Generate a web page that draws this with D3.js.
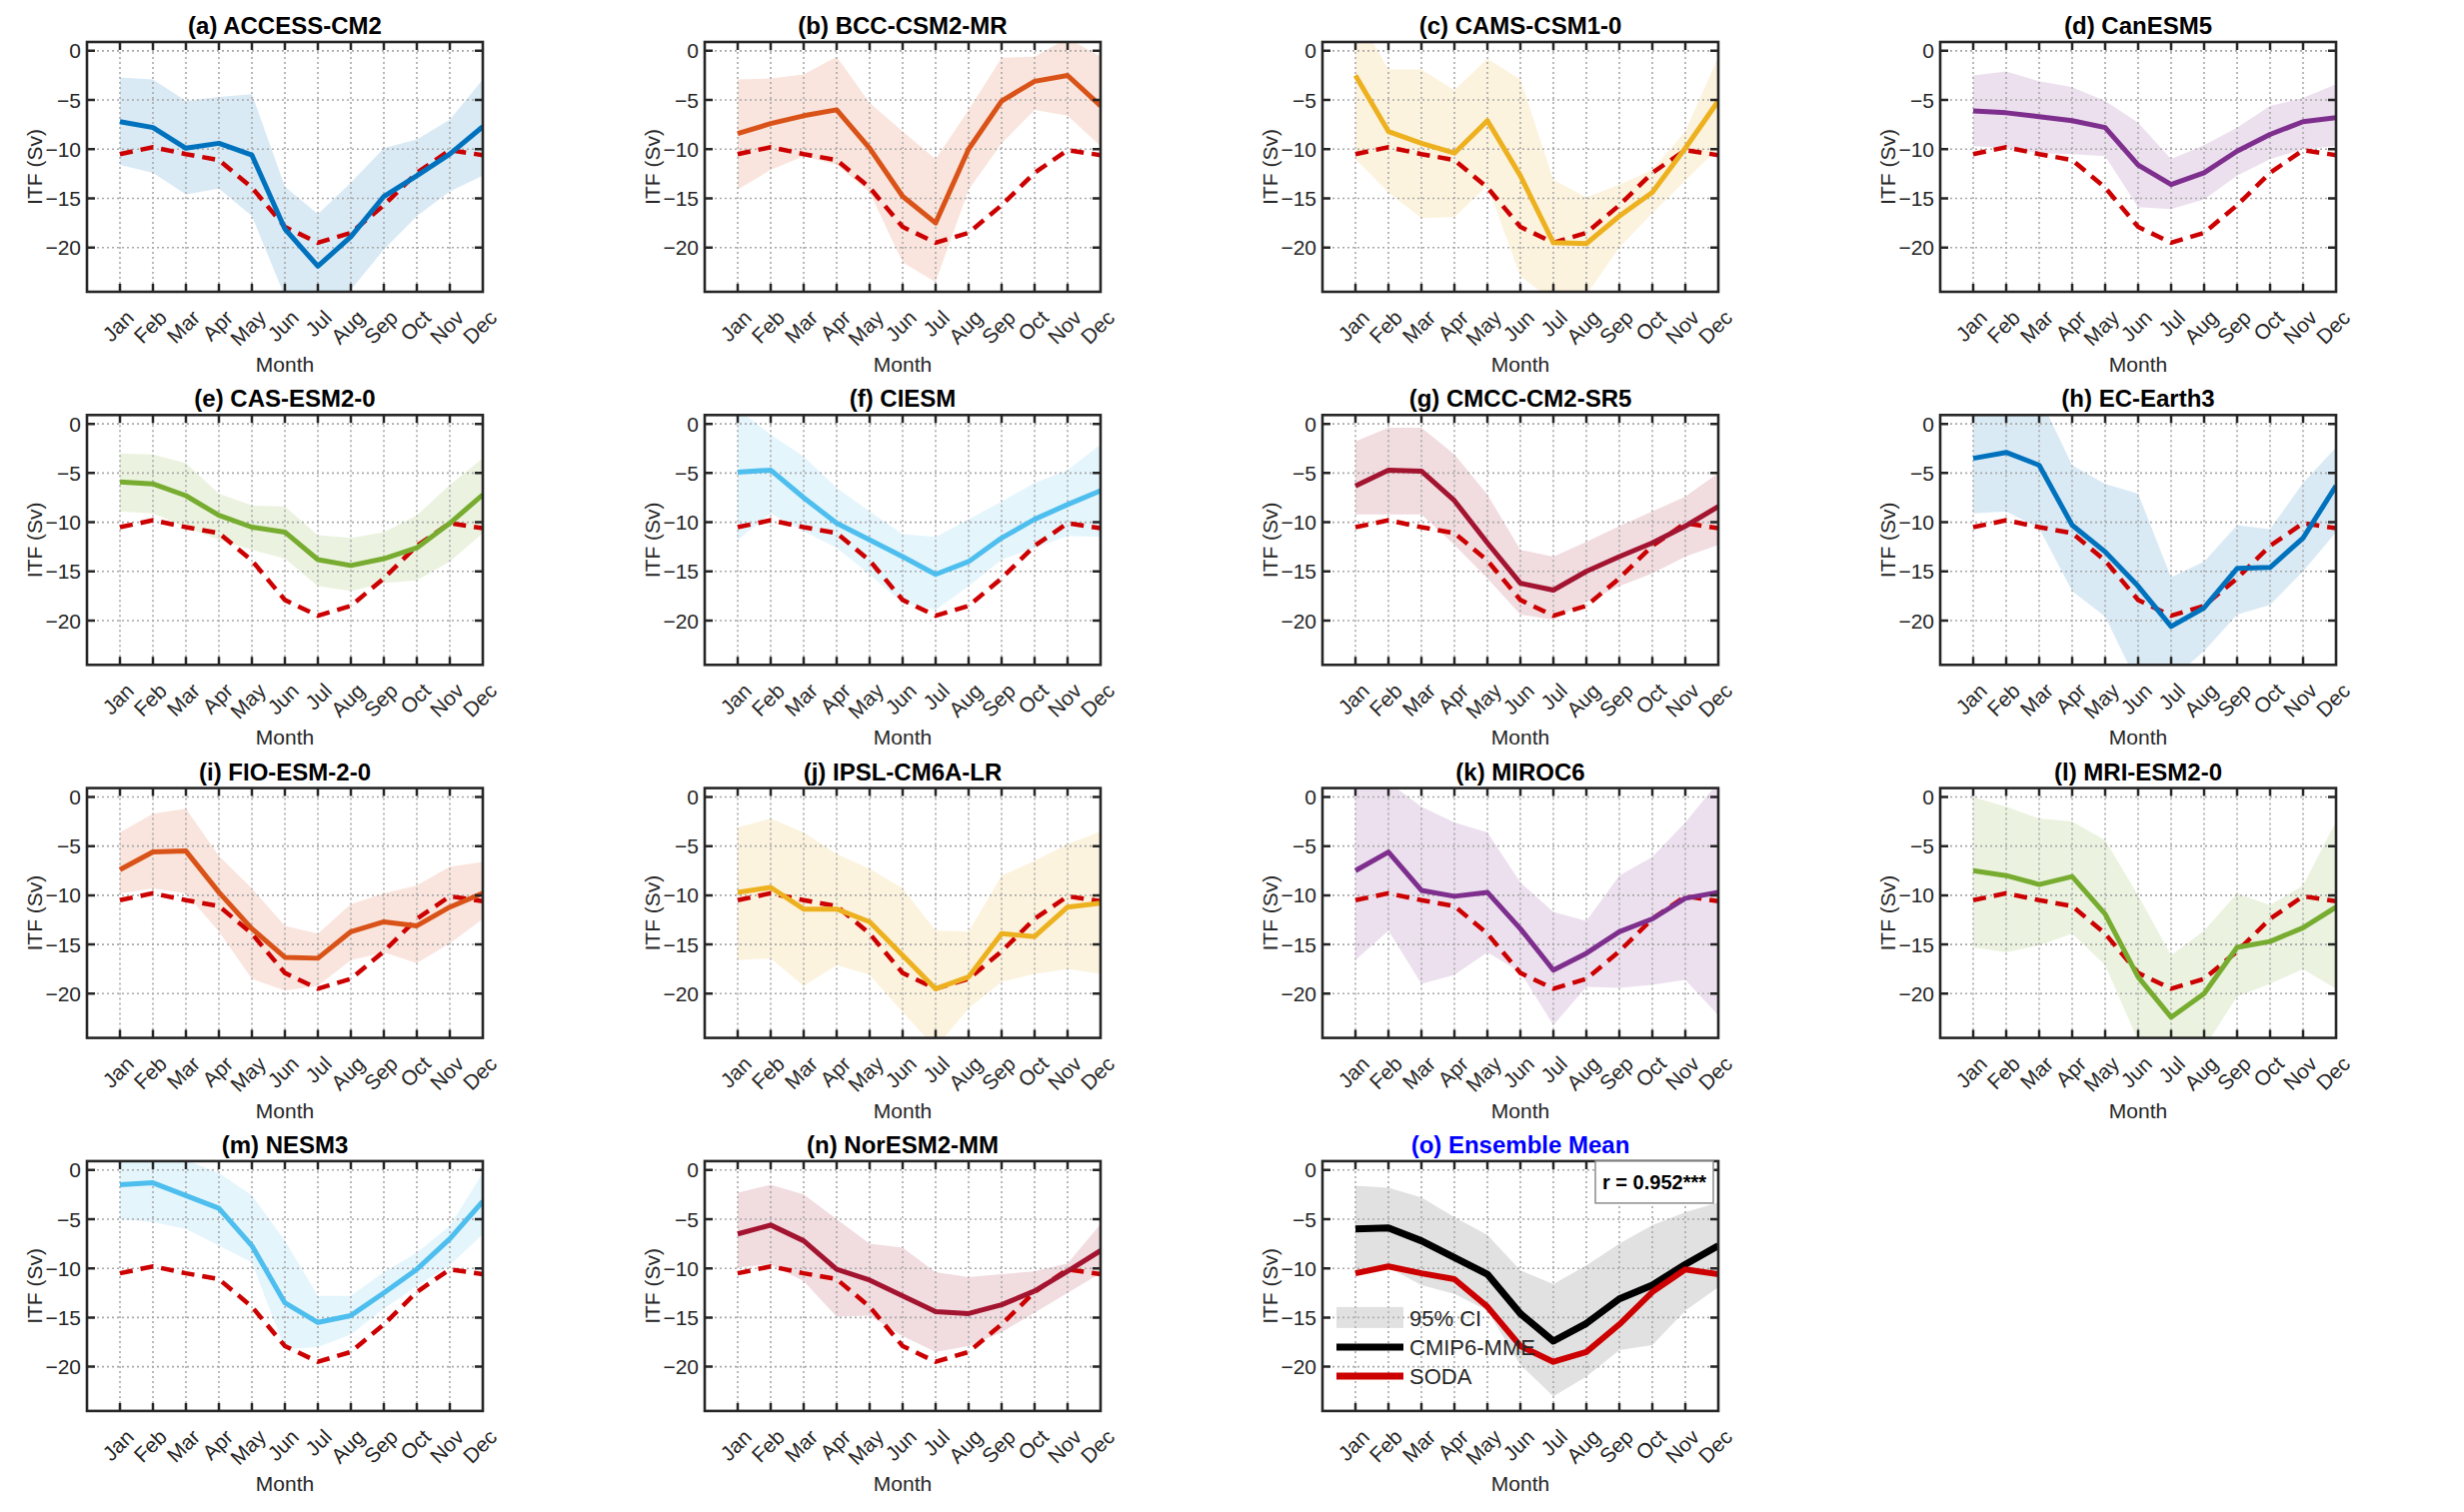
<!DOCTYPE html>
<html>
<head>
<meta charset="utf-8">
<script src="https://cdn.jsdelivr.net/npm/d3@7"></script>
<style>
  body { margin: 0; background: #fff; }
  svg { font-family: "Liberation Sans", Arial, sans-serif; }
</style>
</head>
<body>
<script>
// month labels and y ticks
var months = ["Jan","Feb","Mar","Apr","May","Jun","Jul","Aug","Sep","Oct","Nov","Dec"];
var yTicks = [0, -5, -10, -15, -20];

// SODA reanalysis (same in every panel)
var soda = [-10.5, -9.8, -10.5, -11.1, -13.9, -17.9, -19.5, -18.5, -15.7, -12.4, -10.1, -10.6];

// model means and 95% CI bounds (Sv)
var accessMean = [-7.2, -7.8, -9.9, -9.4, -10.6, -18.1, -21.9, -18.9, -14.8, -12.7, -10.5, -7.7];
var accessHi   = [-2.7, -2.9, -5.1, -4.7, -4.4, -13.8, -16.6, -13.4, -9.9, -9.0, -7.0, -2.9];
var accessLo   = [-11.6, -12.4, -14.6, -14.0, -16.8, -25.0, -28.0, -24.3, -20.2, -16.8, -14.3, -12.7];

var bccMean = [-8.4, -7.4, -6.6, -6.0, -9.9, -14.8, -17.5, -10.0, -5.1, -3.1, -2.5, -5.6];
var bccHi   = [-2.9, -2.8, -2.4, -0.6, -5.3, -8.2, -11.0, -6.0, -0.7, -0.6, 1.3, -0.6];
var bccLo   = [-14.1, -12.1, -10.7, -11.6, -14.4, -21.5, -23.5, -14.1, -9.4, -6.0, -6.6, -9.7];

var camsMean = [-2.5, -8.2, -9.4, -10.4, -7.1, -12.7, -19.5, -19.6, -16.8, -14.4, -9.9, -5.1];
var camsHi   = [4.0, -1.9, -1.9, -4.0, -0.8, -2.9, -13.1, -14.9, -13.6, -12.1, -8.2, -0.6];
var camsLo   = [-11.0, -14.4, -17.0, -16.9, -13.7, -22.9, -25.5, -24.8, -20.0, -16.5, -13.2, -9.9];

var canMean = [-6.1, -6.3, -6.7, -7.1, -7.8, -11.6, -13.6, -12.4, -10.2, -8.5, -7.2, -6.8];
var canHi   = [-2.5, -2.1, -3.1, -3.7, -5.1, -7.3, -11.0, -9.6, -7.8, -5.6, -4.8, -3.4];
var canLo   = [-9.7, -9.9, -10.4, -10.5, -10.7, -15.9, -16.1, -15.1, -12.7, -11.0, -10.0, -9.7];

var casMean = [-5.9, -6.1, -7.3, -9.3, -10.5, -11.0, -13.8, -14.4, -13.7, -12.6, -10.1, -7.2];
var casHi   = [-3.0, -3.1, -4.0, -7.1, -8.3, -8.4, -11.3, -11.6, -11.0, -9.3, -6.2, -3.5];
var casLo   = [-8.9, -9.1, -10.5, -11.8, -12.8, -13.7, -16.5, -17.0, -16.2, -15.9, -14.0, -11.1];

var ciesmMean = [-4.9, -4.7, -7.5, -10.1, -11.8, -13.5, -15.3, -14.0, -11.6, -9.7, -8.2, -6.8];
var ciesmHi   = [1.5, -1.1, -3.3, -6.5, -8.9, -11.2, -11.5, -9.7, -7.9, -6.0, -4.7, -2.1];
var ciesmLo   = [-11.8, -9.1, -10.9, -12.6, -15.3, -18.2, -18.9, -16.5, -13.8, -12.6, -11.4, -11.5];

var cmccMean = [-6.3, -4.7, -4.8, -7.8, -12.1, -16.2, -16.9, -15.0, -13.5, -12.1, -10.4, -8.4];
var cmccHi   = [-1.8, -0.4, -0.4, -3.1, -7.2, -12.8, -13.5, -12.0, -10.4, -8.9, -7.4, -5.0];
var cmccLo   = [-9.2, -9.2, -9.2, -12.3, -15.7, -19.4, -19.9, -18.1, -16.5, -15.2, -13.5, -12.3];

var ecMean = [-3.5, -2.9, -4.2, -10.3, -13.0, -16.5, -20.6, -18.7, -14.7, -14.6, -11.6, -6.3];
var ecHi   = [2.0, 2.0, 2.8, -4.2, -6.1, -7.1, -15.6, -14.0, -10.3, -10.7, -6.0, -2.4];
var ecLo   = [-9.1, -8.9, -10.6, -17.0, -19.6, -26.5, -26.0, -23.1, -19.4, -18.4, -15.0, -11.0];

var fioMean = [-7.4, -5.6, -5.5, -9.7, -13.4, -16.3, -16.4, -13.7, -12.7, -13.1, -11.2, -9.8];
var fioHi   = [-3.6, -1.7, -1.2, -6.0, -9.3, -13.1, -13.9, -10.9, -9.8, -9.0, -7.1, -6.6];
var fioLo   = [-9.8, -9.3, -9.8, -13.7, -18.5, -19.7, -19.2, -16.6, -15.8, -16.9, -14.9, -12.4];

var ipslMean = [-9.7, -9.2, -11.4, -11.4, -12.7, -16.1, -19.5, -18.3, -13.9, -14.2, -11.2, -10.8];
var ipslHi   = [-3.1, -2.2, -3.6, -5.8, -7.3, -9.3, -13.6, -13.7, -8.0, -6.5, -4.8, -3.5];
var ipslLo   = [-16.6, -16.4, -19.2, -17.1, -18.1, -21.9, -25.5, -21.5, -18.8, -18.0, -17.5, -18.0];

var mirocMean = [-7.5, -5.6, -9.5, -10.1, -9.7, -13.4, -17.6, -15.9, -13.7, -12.4, -10.3, -9.7];
var mirocHi   = [1.5, 1.5, -1.0, -2.6, -3.6, -8.7, -11.7, -12.6, -8.0, -6.1, -2.6, 1.5];
var mirocLo   = [-16.6, -13.6, -19.0, -18.1, -15.8, -17.8, -23.2, -19.3, -19.4, -19.1, -18.6, -22.2];

var mriMean = [-7.5, -8.0, -8.9, -8.1, -11.9, -18.3, -22.4, -20.0, -15.3, -14.7, -13.3, -11.2];
var mriHi   = [0.0, -1.0, -2.2, -2.5, -4.4, -10.0, -16.1, -13.6, -9.8, -11.0, -9.0, -2.5];
var mriLo   = [-15.3, -15.8, -15.1, -13.9, -17.1, -24.8, -26.0, -25.5, -20.3, -19.0, -17.5, -19.5];

var nesmMean = [-1.5, -1.3, -2.6, -3.9, -7.7, -13.5, -15.5, -14.8, -12.5, -10.1, -7.0, -3.2];
var nesmHi   = [1.5, 1.5, 1.0, -0.3, -2.6, -7.2, -12.8, -12.8, -10.4, -8.4, -5.7, -0.3];
var nesmLo   = [-5.0, -5.3, -6.0, -7.7, -9.4, -18.2, -18.0, -16.7, -14.1, -11.8, -9.7, -6.5];

var norMean = [-6.5, -5.6, -7.2, -10.1, -11.2, -12.8, -14.4, -14.6, -13.7, -12.3, -10.3, -8.2];
var norHi   = [-2.3, -1.5, -2.5, -5.0, -7.5, -7.9, -10.4, -10.9, -10.6, -10.3, -9.5, -5.5];
var norLo   = [-9.9, -9.6, -11.3, -14.9, -14.8, -16.9, -18.5, -17.9, -16.5, -14.5, -12.5, -10.5];

// multi-model ensemble
var mmeMean = [-6.0, -5.9, -7.2, -8.9, -10.6, -14.6, -17.4, -15.6, -13.1, -11.7, -9.6, -7.7];
var mmeHi   = [-1.6, -1.8, -2.8, -4.8, -6.6, -10.2, -11.6, -9.7, -7.5, -5.6, -4.3, -3.3];
var mmeLo   = [-10.5, -9.9, -11.7, -12.6, -14.3, -19.8, -23.0, -21.0, -18.3, -17.8, -14.3, -11.9];

var titles = ["(a) ACCESS-CM2","(b) BCC-CSM2-MR","(c) CAMS-CSM1-0","(d) CanESM5",
              "(e) CAS-ESM2-0","(f) CIESM","(g) CMCC-CM2-SR5","(h) EC-Earth3",
              "(i) FIO-ESM-2-0","(j) IPSL-CM6A-LR","(k) MIROC6","(l) MRI-ESM2-0",
              "(m) NESM3","(n) NorESM2-MM","(o) Ensemble Mean"];
var means = [accessMean, bccMean, camsMean, canMean, casMean, ciesmMean, cmccMean,
             ecMean, fioMean, ipslMean, mirocMean, mriMean, nesmMean, norMean, mmeMean];
var his = [accessHi, bccHi, camsHi, canHi, casHi, ciesmHi, cmccHi,
           ecHi, fioHi, ipslHi, mirocHi, mriHi, nesmHi, norHi, mmeHi];
var los = [accessLo, bccLo, camsLo, canLo, casLo, ciesmLo, cmccLo,
           ecLo, fioLo, ipslLo, mirocLo, mriLo, nesmLo, norLo, mmeLo];

var palette = ["#0072BD","#D95319","#EDB120","#7E2F8E","#77AC30","#4DBEEE","#A2142F"];

var W = 2465, H = 1513;
var pw = 396, ph = 250;
var ink = "#262626";

var svg = d3.select("body").append("svg")
  .attr("width", W).attr("height", H);

var x = d3.scaleLinear().domain([0, 12]).range([0, pw]);
var y = d3.scaleLinear().domain([-24.5, 0.9]).range([ph, 0]);

titles.forEach(function(title, k) {
  var col = k % 4, row = Math.floor(k / 4);
  var left = 87 + col * 618, top = 42 + row * 373.3;
  var isMME = (k == 14);
  var color = isMME ? "#000" : palette[k % 7];
  var fillColor = isMME ? "#bdbdbd" : color;
  var fillOp = isMME ? 0.45 : 0.15;

  var g = svg.append("g").attr("transform", "translate(" + left + "," + top + ")");

  g.append("clipPath").attr("id", "clip" + k)
    .append("rect").attr("width", pw).attr("height", ph);

  var plot = g.append("g").attr("clip-path", "url(#clip" + k + ")");

  var band = d3.area()
    .x(function(d, i) { return x(i + 1); })
    .y0(function(d, i) { return y(los[k][i]); })
    .y1(function(d, i) { return y(his[k][i]); });

  plot.append("path").datum(means[k])
    .attr("d", band)
    .attr("fill", fillColor).attr("fill-opacity", fillOp);

  // grid
  plot.selectAll(".vg").data(d3.range(1, 12)).enter().append("line")
    .attr("x1", function(d) { return x(d); }).attr("x2", function(d) { return x(d); })
    .attr("y1", 0).attr("y2", ph)
    .attr("stroke", "#a8a8a8").attr("stroke-width", 1.6).attr("stroke-dasharray", "2,3");
  plot.selectAll(".hg").data(yTicks).enter().append("line")
    .attr("x1", 0).attr("x2", pw)
    .attr("y1", function(d) { return y(d); }).attr("y2", function(d) { return y(d); })
    .attr("stroke", "#a8a8a8").attr("stroke-width", 1.6).attr("stroke-dasharray", "2,3");

  var line = d3.line()
    .x(function(d, i) { return x(i + 1); })
    .y(function(d) { return y(d); });

  if (isMME) {
    plot.append("path").datum(means[k]).attr("d", line)
      .attr("fill", "none").attr("stroke", "#000").attr("stroke-width", 7)
      .attr("stroke-linejoin", "round");
    plot.append("path").datum(soda).attr("d", line)
      .attr("fill", "none").attr("stroke", "#CC0000").attr("stroke-width", 6)
      .attr("stroke-linejoin", "round");
  } else {
    plot.append("path").datum(soda).attr("d", line)
      .attr("fill", "none").attr("stroke", "#CC0000").attr("stroke-width", 4.5)
      .attr("stroke-dasharray", "13,8");
    plot.append("path").datum(means[k]).attr("d", line)
      .attr("fill", "none").attr("stroke", color).attr("stroke-width", 5)
      .attr("stroke-linejoin", "round");
  }

  // ticks inside, all four sides
  var tl = 8;
  g.selectAll(".xt").data(d3.range(1, 12)).enter().append("path")
    .attr("d", function(d) {
      var px = x(d);
      return "M" + px + "," + ph + "v" + (-tl) + "M" + px + ",0v" + tl;
    })
    .attr("stroke", ink).attr("stroke-width", 2.5);
  g.selectAll(".yt").data(yTicks).enter().append("path")
    .attr("d", function(d) {
      var py = y(d);
      return "M0," + py + "h" + tl + "M" + pw + "," + py + "h" + (-tl);
    })
    .attr("stroke", ink).attr("stroke-width", 2.5);

  g.append("rect").attr("width", pw).attr("height", ph)
    .attr("fill", "none").attr("stroke", ink).attr("stroke-width", 2.6);

  // tick labels
  g.selectAll(".yl").data(yTicks).enter().append("text")
    .attr("x", -6).attr("y", function(d) { return y(d); })
    .attr("dy", "0.36em").attr("text-anchor", "end")
    .attr("font-size", 21).attr("fill", ink)
    .text(function(d) { return d < 0 ? "\u2212" + Math.abs(d) : d; });

  g.selectAll(".xl").data(months).enter().append("text")
    .attr("transform", function(d, i) {
      return "translate(" + (x(i + 1) + 10) + "," + (ph + 22) + ") rotate(-45)";
    })
    .attr("text-anchor", "end").attr("dy", "0.36em")
    .attr("font-size", 21).attr("fill", ink)
    .text(function(d) { return d; });

  g.append("text").attr("x", pw / 2).attr("y", ph + 80)
    .attr("text-anchor", "middle").attr("font-size", 21).attr("fill", ink)
    .text("Month");

  g.append("text")
    .attr("transform", "translate(-45," + (ph / 2) + ") rotate(-90)")
    .attr("text-anchor", "middle").attr("font-size", 21).attr("fill", ink)
    .text("ITF (Sv)");

  g.append("text").attr("x", pw / 2).attr("y", -8)
    .attr("text-anchor", "middle").attr("font-size", 24).attr("font-weight", "bold")
    .attr("fill", isMME ? "#0000FF" : "#000")
    .text(title);

  if (isMME) {
    // correlation box
    g.append("rect").attr("x", 273).attr("y", 0).attr("width", 118).attr("height", 42)
      .attr("fill", "#fff").attr("stroke", "#8c8c8c").attr("stroke-width", 1.5);
    g.append("text").attr("x", 280).attr("y", 28)
      .attr("font-size", 20).attr("font-weight", "bold").attr("fill", "#000")
      .text("r = 0.952***");

    // legend
    var lg = g.append("g").attr("transform", "translate(14,146)");
    lg.append("rect").attr("width", 67).attr("height", 21)
      .attr("fill", "#bdbdbd").attr("fill-opacity", 0.45);
    lg.append("text").attr("x", 73).attr("y", 19).attr("font-size", 22).attr("fill", ink).text("95% CI");
    lg.append("line").attr("x1", 0).attr("x2", 67).attr("y1", 40).attr("y2", 40)
      .attr("stroke", "#000").attr("stroke-width", 7);
    lg.append("text").attr("x", 73).attr("y", 48).attr("font-size", 22).attr("fill", ink).text("CMIP6-MME");
    lg.append("line").attr("x1", 0).attr("x2", 67).attr("y1", 69).attr("y2", 69)
      .attr("stroke", "#CC0000").attr("stroke-width", 7);
    lg.append("text").attr("x", 73).attr("y", 77).attr("font-size", 22).attr("fill", ink).text("SODA");
  }
});
</script>
</body>
</html>
